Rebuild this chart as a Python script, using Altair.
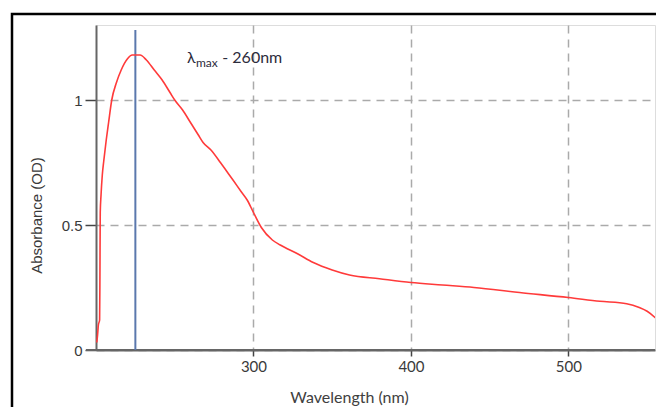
import altair as alt
import pandas as pd

# Spectrum (wavelength nm, absorbance OD)
wavelength = [200.5, 201.0, 201.5, 202.3, 202.5, 202.7, 203.2, 204.0, 205.0, 206.5,
              208.0, 210.0, 213.0, 216.0, 220.0, 223.0, 228.0, 232.0, 237.0, 242.0,
              247.0, 250.0, 255.0, 260.0, 265.0, 268.0, 273.0, 279.0, 283.0, 287.0,
              292.0, 296.0, 300.0, 305.0, 312.0, 317.0, 328.0, 338.0, 350.0, 361.0,
              380.0, 400.0, 420.0, 440.0, 469.0, 500.0, 520.0, 537.0, 545.0, 550.0,
              555.0, 560.0]
absorbance = [0.03, 0.06, 0.10, 0.12, 0.30, 0.55, 0.62, 0.70, 0.76, 0.84,
              0.91, 1.00, 1.07, 1.12, 1.165, 1.18, 1.18, 1.16, 1.12, 1.08,
              1.03, 1.00, 0.96, 0.91, 0.86, 0.83, 0.80, 0.75, 0.715, 0.68,
              0.635, 0.60, 0.55, 0.49, 0.44, 0.42, 0.385, 0.35, 0.32, 0.30,
              0.285, 0.27, 0.26, 0.25, 0.23, 0.21, 0.195, 0.185, 0.17, 0.155,
              0.13, 0.10]

lambda_line_x = [225]
lambda_line_bottom = [0]
lambda_line_top = [1.28]

x_ticks = [300, 400, 500]
y_ticks = [0, 0.5, 1]

ann_text = ["λ", "max", "- 260nm"]
ann_x = [257.8, 263.5, 280.2]
ann_y = [1.168, 1.150, 1.168]
ann_size = [16, 12, 16]

W, H = 559, 325
XDOM = [200, 555]
YDOM = [0, 1.3]

spec = pd.DataFrame({"wl": wavelength, "od": absorbance})
vline = pd.DataFrame({"wl": lambda_line_x, "bot": lambda_line_bottom, "top": lambda_line_top})
ann = pd.DataFrame({"t": ann_text, "wl": ann_x, "od": ann_y, "s": ann_size})

xs = alt.Scale(domain=XDOM, nice=False, zero=False)
ys = alt.Scale(domain=YDOM, nice=False)

xaxis = alt.Axis(values=x_ticks, title="Wavelength (nm)", grid=True,
                 gridDash=[8, 6], gridColor="#aaaaaa", gridWidth=1.5,
                 domainColor="#666666", domainWidth=2,
                 tickColor="#444444", tickSize=6, tickWidth=1.5,
                 labelFont="Lato", labelFontSize=15, labelColor="#3a3a3a",
                 labelPadding=3,
                 titleFont="Lato", titleFontSize=16, titleFontWeight="normal",
                 titleColor="#404040", titleX=253, titleY=47,
                 titleBaseline="middle", titleAnchor="middle")
yaxis = alt.Axis(values=y_ticks, title="Absorbance (OD)", grid=True,
                 labelExpr="datum.value == 0 ? '0' : datum.value == 1 ? '1' : '0.5'",
                 gridDash=[8, 6], gridColor="#aaaaaa", gridWidth=1.5,
                 domainColor="#666666", domainWidth=2,
                 tickColor="#444444", tickSize=11, tickWidth=1.5,
                 labelFont="Liberation Sans", labelFontSize=15, labelColor="#3a3a3a",
                 labelPadding=3,
                 titleFont="Liberation Sans", titleFontSize=15, titleFontWeight="normal",
                 titleColor="#3a3a3a", titleX=-60, titleY=190,
                 titleBaseline="middle", titleAngle=-90)

line = alt.Chart(spec).mark_line(color="#ff3a3a", strokeWidth=1.6, clip=True,
                                 interpolate="monotone").encode(
    x=alt.X("wl:Q", scale=xs, axis=xaxis),
    y=alt.Y("od:Q", scale=ys, axis=yaxis),
)

blue = alt.Chart(vline).mark_rule(color="#5b78ad", strokeWidth=2).encode(
    x=alt.X("wl:Q", scale=xs),
    y=alt.Y("bot:Q", scale=ys),
    y2="top:Q",
)

xline = alt.Chart(vline).mark_rule(color="#666666", strokeWidth=2, clip=False).encode(
    x=alt.value(-10), x2=alt.value(W), y=alt.value(H)
)

frame = alt.Chart(vline).mark_rect(fillOpacity=0, stroke="black", strokeWidth=2.5,
                                   clip=False).encode(
    x=alt.value(-84), x2=alt.value(W + 30), y=alt.value(-11), y2=alt.value(H + 90)
)

texts = alt.Chart(ann).mark_text(align="left", baseline="middle", font="Lato",
                                 color="#2c2c3c").encode(
    x=alt.X("wl:Q", scale=xs),
    y=alt.Y("od:Q", scale=ys),
    text="t:N",
    size=alt.Size("s:Q", scale=None, legend=None),
)

chart = alt.layer(frame, xline, blue, line, texts).properties(
    width=W, height=H,
    autosize=alt.AutoSizeParams(type="none"),
    padding={"left": 88, "top": 17, "right": 1, "bottom": 57},
).configure_view(stroke=None).configure(background="white")

chart.save("out.html", embed_options={"renderer": "svg", "actions": False})
